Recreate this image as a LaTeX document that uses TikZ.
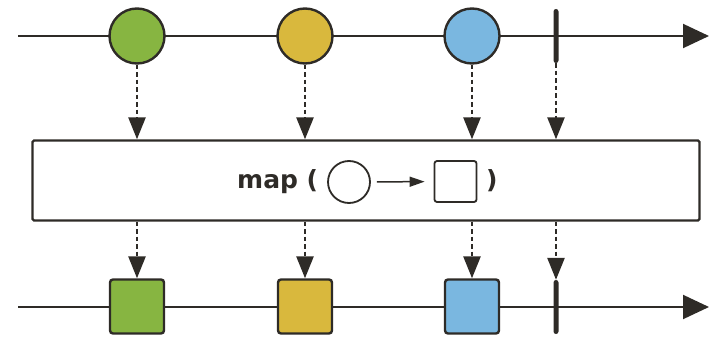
\documentclass[tikz,border=0pt]{standalone}
\usepackage{fontspec}
\usepackage{tikz}
\usetikzlibrary{positioning,arrows.meta}
\newfontfamily\mapfont{DejaVu Sans}
\definecolor{MInk}{HTML}{2E2B27}
\definecolor{MGreen}{HTML}{87B541}
\definecolor{MYellow}{HTML}{D9B83D}
\definecolor{MBlue}{HTML}{7AB7E0}
\tikzset{
  axis/.style={line width=2pt,MInk,-{Triangle[length=26pt,width=24pt]}},
  ball/.style={circle,draw=MInk,line width=2.4pt,minimum size=55pt,inner sep=0pt},
  tile/.style={rectangle,draw=MInk,line width=2.4pt,rounded corners=3pt,minimum size=54pt,inner sep=0pt},
  stopbar/.style={rectangle,fill=MInk,rounded corners=2.5pt,minimum width=5pt,minimum height=54pt,inner sep=0pt},
  drop/.style={MInk,line width=2.6pt,dash pattern=on 4.5pt off 3pt,-{Triangle[length=22pt,width=17pt]}},
}
\begin{document}
\begin{tikzpicture}[x=1pt,y=-1pt]
\useasboundingbox (0,0) rectangle (709,337);
% top line
\coordinate (tin) at (18,36);
\coordinate (tout) at (709,36);
\draw[axis] (tin)--(tout);
\node[ball,fill=MGreen] (c1) at (137,36) {};
\node[ball,fill=MYellow] (c2) at (305,36) {};
\node[ball,fill=MBlue] (c3) at (472,36) {};
\node[stopbar] (t1) at (556,36) {};
% operator box
\node[draw=MInk,fill=white,line width=2.4pt,rounded corners=1.5pt,minimum width=667pt,minimum height=80pt] (box) at (366,180.5) {};
\node[font=\mapfont\bfseries\fontsize{25}{30}\selectfont,text=MInk,anchor=base west,inner sep=0pt] (fn) at (237,188) {map (};
\node[circle,draw=MInk,line width=1.8pt,minimum size=42pt,inner sep=0pt] (dom) at (349,182) {};
\node[rectangle,draw=MInk,line width=1.8pt,rounded corners=2.5pt,minimum width=42pt,minimum height=41pt,inner sep=0pt] (cod) at (455.5,181.5) {};
\node[font=\mapfont\bfseries\fontsize{25}{30}\selectfont,text=MInk,anchor=base west,inner sep=0pt] (fnr) at (486,188) {)};
\draw[MInk,line width=1.5pt,shorten <=6pt,shorten >=9pt,-{Triangle[length=15pt,width=10pt]}] (dom)--(cod);
% bottom line
\coordinate (bin) at (18,307);
\coordinate (bout) at (709,307);
\draw[axis] (bin)--(bout);
\node[tile,fill=MGreen] (s1) at (137,306.5) {};
\node[tile,fill=MYellow] (s2) at (305,306.5) {};
\node[tile,fill=MBlue] (s3) at (472,306.5) {};
\node[stopbar] (t2) at (556,307) {};
% dashed drops
\foreach \n in {c1,c2,c3,t1} \draw[drop] (\n.south)--(\n.south |- box.north);
\foreach \n in {s1,s2,s3,t2} \draw[drop] (box.south -| \n.north)--(\n.north);
\end{tikzpicture}
\end{document}
